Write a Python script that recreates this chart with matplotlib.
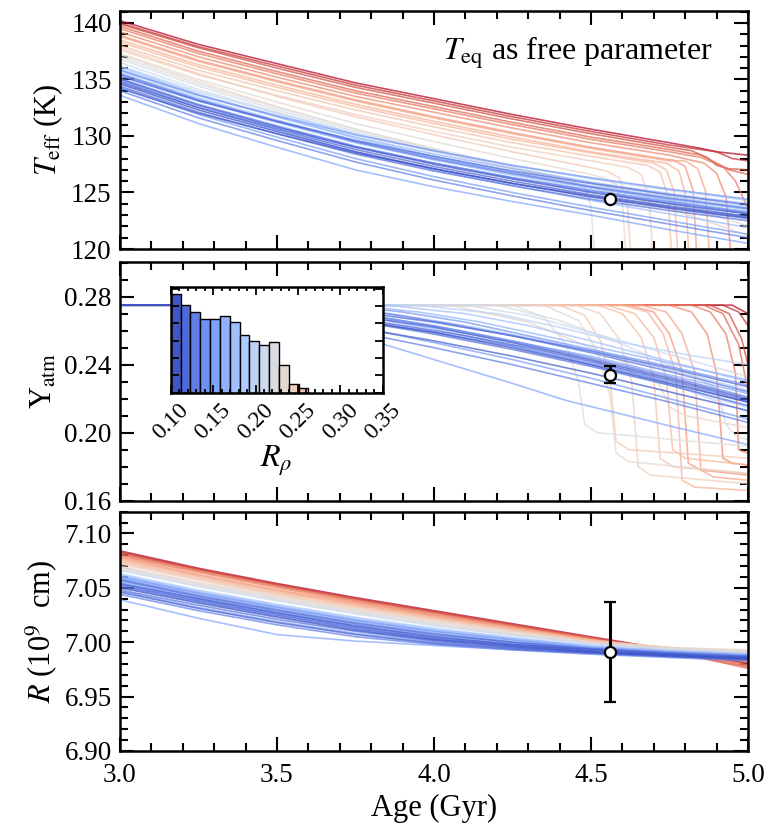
import numpy as np
import matplotlib.pyplot as plt
from matplotlib.ticker import MultipleLocator, FormatStrFormatter

plt.rcParams['font.family'] = ['Liberation Serif', 'DejaVu Serif']
plt.rcParams['mathtext.fontset'] = 'stix'

# R_rho of each model track (blue -> red)
rrho = [0.101, 0.104, 0.106, 0.109, 0.112, 0.114, 0.117, 0.120, 0.123, 0.126,
        0.129, 0.132, 0.136, 0.139, 0.143, 0.147, 0.151, 0.156, 0.161, 0.166,
        0.171, 0.176, 0.181, 0.186, 0.190,
        0.195, 0.199, 0.203, 0.208, 0.212, 0.217, 0.222, 0.228, 0.234, 0.240,
        0.247, 0.255, 0.262]

age_grid = [3.0, 3.25, 3.5, 3.75, 4.0, 4.25, 4.5, 4.75, 5.0]

# effective temperature on the age grid (K)
teff_grid = [
    [134.6, 132.3, 130.4, 128.6, 127.1, 125.8, 124.6, 123.6, 122.7],
    [135.0, 132.7, 130.8, 129.0, 127.5, 126.2, 125.0, 124.0, 123.1],
    [134.2, 132.0, 130.2, 128.5, 127.1, 125.8, 124.7, 123.7, 122.8],
    [134.8, 132.5, 130.6, 128.8, 127.3, 126.0, 124.8, 123.8, 122.9],
    [135.3, 133.1, 131.3, 129.6, 128.2, 126.9, 125.8, 124.8, 123.9],
    [134.4, 132.1, 130.2, 128.4, 126.9, 125.6, 124.4, 123.4, 122.5],
    [135.5, 133.2, 131.3, 129.5, 128.0, 126.7, 125.5, 124.5, 123.6],
    [134.0, 131.6, 129.6, 127.7, 126.1, 124.7, 123.4, 122.2, 121.0],
    [135.1, 132.8, 130.9, 129.1, 127.6, 126.3, 125.1, 124.1, 123.2],
    [134.7, 132.5, 130.7, 129.0, 127.6, 126.3, 125.2, 124.2, 123.3],
    [135.8, 133.6, 131.8, 130.1, 128.7, 127.4, 126.3, 125.3, 124.4],
    [134.3, 131.9, 129.9, 128.0, 126.4, 125.0, 123.7, 122.5, 121.3],
    [133.6, 131.1, 129.0, 127.0, 125.5, 124.2, 123.0, 121.7, 120.5],
    [135.4, 133.1, 131.2, 129.4, 127.9, 126.6, 125.4, 124.4, 123.5],
    [135.9, 133.6, 131.7, 129.9, 128.4, 127.1, 125.9, 124.9, 124.0],
    [134.9, 132.5, 130.5, 128.6, 127.0, 125.6, 124.3, 123.1, 121.9],
    [136.1, 133.7, 131.7, 129.8, 128.2, 126.8, 125.5, 124.3, 123.1],
    [135.6, 133.3, 131.4, 129.6, 128.1, 126.8, 125.6, 124.6, 123.7],
    [136.2, 133.9, 132.0, 130.2, 128.7, 127.4, 126.2, 125.2, 124.3],
    [135.8, 133.4, 131.4, 129.5, 127.9, 126.5, 125.2, 124.0, 122.8],
    [136.5, 134.1, 132.1, 130.2, 128.6, 127.2, 125.9, 124.7, 123.5],
    [136.8, 134.4, 132.3, 130.4, 128.7, 127.2, 125.8, 124.3, 122.0],
    [137.0, 134.6, 132.5, 130.6, 128.9, 127.3, 125.8, 124.4, 123.0],
    [137.3, 135.0, 133.0, 131.1, 129.5, 128.0, 126.6, 125.3, 124.0],
    [137.2, 134.8, 132.6, 130.6, 128.8, 127.1, 125.5, 123.6, 121.2],
    [137.6, 135.4, 133.6, 131.9, 130.4, 129.0, 127.8, 126.7, 125.6],
    [137.8, 135.5, 133.5, 131.7, 130.1, 128.6, 127.2, 126.0, 124.8],
    [138.0, 135.8, 134.0, 132.3, 130.8, 129.4, 128.2, 127.1, 126.0],
    [138.3, 136.1, 134.3, 132.6, 131.1, 129.7, 128.5, 127.4, 126.4],
    [138.5, 136.3, 134.5, 132.8, 131.3, 129.9, 128.6, 127.5, 126.5],
    [138.8, 136.6, 134.8, 133.1, 131.6, 130.2, 128.9, 127.8, 126.8],
    [138.9, 136.7, 134.9, 133.2, 131.7, 130.3, 129.0, 127.9, 126.9],
    [139.2, 137.0, 135.2, 133.5, 132.1, 130.7, 129.4, 128.3, 127.3],
    [139.5, 137.3, 135.5, 133.8, 132.4, 131.0, 129.7, 128.6, 127.6],
    [139.7, 137.5, 135.7, 134.0, 132.6, 131.2, 129.9, 128.8, 127.8],
    [139.9, 137.8, 136.0, 134.3, 132.9, 131.5, 130.2, 129.0, 128.0],
    [140.0, 137.9, 136.2, 134.5, 133.1, 131.7, 130.4, 129.2, 128.2],
    [140.2, 138.1, 136.4, 134.7, 133.3, 131.9, 130.6, 129.4, 128.3],
]

# late-time collapse of Teff, replacing the grid from its first age on
teff_tail = [None] * 22 + [
    [(4.45, 125.9), (4.48, 125.4), (4.50, 123.8), (4.515, 118.0)],
    [(4.55, 126.2), (4.58, 125.7), (4.60, 124.0), (4.615, 118.0)],
    None,
    [(4.62, 127.2), (4.66, 126.6), (4.685, 124.6), (4.70, 118.0)],
    [(4.55, 126.9), (4.59, 126.3), (4.615, 124.3), (4.63, 118.0)],
    [(4.68, 127.4), (4.72, 126.8), (4.745, 124.7), (4.76, 118.0)],
    [(4.70, 127.6), (4.74, 127.0), (4.765, 125.0), (4.78, 118.0)],
    [(4.74, 127.6), (4.78, 126.9), (4.80, 124.9), (4.815, 118.0)],
    [(4.80, 127.8), (4.84, 127.1), (4.865, 125.1), (4.88, 118.0)],
    [(4.76, 127.9), (4.80, 127.3), (4.825, 125.2), (4.84, 118.0)],
    [(4.86, 127.6), (4.90, 126.7), (4.93, 124.6), (4.95, 118.0)],
    [(4.85, 128.1), (4.92, 127.3), (4.96, 126.0), (4.99, 124.2), (5.0, 123.5)],
    [(4.85, 128.3), (4.90, 127.6), (4.94, 127.0), (5.0, 126.6)],
    [(4.82, 128.7), (4.87, 128.1), (4.90, 127.4), (4.94, 127.1), (5.0, 127.0)],
    [(4.90, 128.6), (4.95, 128.0), (5.0, 127.8)],
    [(4.85, 128.9), (4.90, 128.6), (5.0, 128.3)],
]

# atmospheric helium mass fraction tracks (age, Y)
yatm_tracks = [
    [(3.0, .275), (3.30, .275), (3.5, .272), (3.75, .266), (4.0, .259), (4.25, .250), (4.5, .240), (4.75, .229), (5.0, .218)],
    [(3.0, .275), (3.45, .275), (3.75, .269), (4.0, .262), (4.25, .253), (4.5, .243), (4.75, .232), (5.0, .220)],
    [(3.0, .275), (3.25, .275), (3.5, .270), (3.75, .262), (4.0, .254), (4.25, .245), (4.5, .235), (4.75, .224), (5.0, .213)],
    [(3.0, .275), (3.40, .275), (3.65, .270), (3.9, .263), (4.1, .257), (4.3, .250), (4.5, .242), (4.75, .231), (5.0, .219)],
    [(3.0, .275), (3.55, .275), (3.8, .270), (4.0, .265), (4.25, .257), (4.5, .248), (4.75, .238), (5.0, .227)],
    [(3.0, .275), (3.35, .275), (3.6, .270), (3.84, .263), (4.0, .258), (4.25, .249), (4.5, .239), (4.75, .228), (5.0, .216)],
    [(3.0, .275), (3.60, .275), (3.85, .270), (4.05, .264), (4.25, .257), (4.5, .247), (4.75, .236), (5.0, .224)],
    [(3.0, .275), (3.20, .275), (3.5, .266), (3.84, .256), (4.0, .250), (4.25, .240), (4.5, .229), (4.75, .218), (5.0, .206)],
    [(3.0, .275), (3.50, .275), (3.75, .270), (4.0, .263), (4.25, .254), (4.5, .244), (4.75, .233), (5.0, .221)],
    [(3.0, .275), (3.40, .275), (3.7, .268), (4.0, .259), (4.25, .251), (4.5, .241), (4.75, .230), (5.0, .218)],
    [(3.0, .275), (3.70, .275), (3.9, .271), (4.1, .265), (4.3, .257), (4.5, .249), (4.75, .239), (5.0, .228)],
    [(3.0, .275), (3.35, .275), (3.6, .268), (3.84, .259), (4.0, .253), (4.25, .243), (4.5, .232), (4.75, .220), (5.0, .208)],
    [(3.0, .275), (3.30, .275), (3.5, .268), (3.84, .252), (4.0, .243), (4.25, .229), (4.42, .219), (4.75, .204), (5.0, .193)],
    [(3.0, .275), (3.55, .275), (3.8, .269), (4.05, .261), (4.3, .252), (4.5, .245), (4.75, .234), (5.0, .223)],
    [(3.0, .275), (3.75, .275), (3.95, .271), (4.15, .265), (4.35, .257), (4.55, .249), (4.75, .241), (5.0, .231)],
    [(3.0, .275), (3.50, .275), (3.75, .269), (4.0, .261), (4.25, .251), (4.5, .240), (4.75, .228), (5.0, .215)],
    [(3.0, .275), (3.85, .275), (4.1, .270), (4.3, .263), (4.5, .254), (4.75, .242), (5.0, .230)],
    [(3.0, .275), (3.65, .275), (3.9, .269), (4.1, .263), (4.3, .256), (4.5, .248), (4.75, .237), (5.0, .225)],
    [(3.0, .275), (3.95, .275), (4.2, .270), (4.4, .262), (4.6, .253), (4.8, .246), (5.0, .240)],
    [(3.0, .275), (3.60, .275), (3.9, .266), (4.2, .255), (4.45, .245), (4.7, .232), (5.0, .212)],
    [(3.0, .275), (4.10, .275), (4.3, .269), (4.5, .259), (4.75, .246), (5.0, .233)],
    [(3.0, .275), (4.20, .275), (4.4, .266), (4.6, .252), (4.8, .236), (4.9, .226), (4.93, .205), (4.96, .198), (5.0, .196)],
    [(3.0, .275), (4.25, .275), (4.35, .268), (4.42, .252), (4.46, .230), (4.48, .205), (4.52, .200), (5.0, .192)],
    [(3.0, .275), (4.35, .275), (4.46, .266), (4.52, .248), (4.56, .222), (4.58, .188), (4.62, .183), (5.0, .176)],
    [(3.0, .275), (4.05, .275), (4.3, .265), (4.5, .250), (4.65, .238), (4.72, .228), (4.75, .215), (4.8, .210), (5.0, .203)],
    [(3.0, .275), (4.45, .275), (4.53, .270), (4.59, .255), (4.63, .230), (4.65, .180), (4.69, .175), (5.0, .170)],
    [(3.0, .275), (4.40, .275), (4.48, .269), (4.53, .254), (4.56, .232), (4.58, .195), (4.62, .190), (5.0, .185)],
    [(3.0, .275), (4.52, .275), (4.60, .270), (4.66, .256), (4.70, .232), (4.72, .185), (4.76, .180), (5.0, .176)],
    [(3.0, .275), (4.55, .275), (4.64, .270), (4.70, .256), (4.74, .232), (4.76, .190), (4.80, .185), (5.0, .181)],
    [(3.0, .275), (4.60, .275), (4.68, .271), (4.73, .258), (4.77, .235), (4.79, .172), (4.83, .168), (5.0, .166)],
    [(3.0, .275), (4.66, .275), (4.74, .271), (4.79, .258), (4.83, .236), (4.85, .178), (4.89, .174), (5.0, .172)],
    [(3.0, .275), (4.62, .275), (4.70, .271), (4.75, .258), (4.79, .236), (4.81, .182), (4.85, .178), (5.0, .175)],
    [(3.0, .275), (4.75, .275), (4.82, .271), (4.87, .258), (4.90, .235), (4.92, .185), (4.95, .182), (5.0, .181)],
    [(3.0, .275), (4.82, .275), (4.88, .271), (4.93, .258), (4.96, .235), (4.97, .190), (5.0, .188)],
    [(3.0, .275), (4.86, .275), (4.92, .270), (4.97, .252), (5.0, .225)],
    [(3.0, .275), (4.88, .275), (4.94, .270), (4.98, .255), (5.0, .240)],
    [(3.0, .275), (4.92, .275), (4.97, .271), (5.0, .263)],
    [(3.0, .275), (4.95, .275), (5.0, .270)],
]

# radius on the age grid (1e9 cm)
radius_grid = [
    [7.050, 7.036, 7.023, 7.011, 7.002, 6.996, 6.991, 6.988, 6.985],
    [7.054, 7.040, 7.027, 7.015, 7.005, 6.998, 6.993, 6.989, 6.986],
    [7.046, 7.031, 7.018, 7.007, 6.999, 6.994, 6.990, 6.987, 6.984],
    [7.052, 7.038, 7.025, 7.013, 7.003, 6.997, 6.992, 6.988, 6.985],
    [7.057, 7.042, 7.029, 7.017, 7.007, 7.000, 6.994, 6.990, 6.987],
    [7.048, 7.034, 7.021, 7.010, 7.001, 6.995, 6.991, 6.987, 6.984],
    [7.058, 7.043, 7.030, 7.018, 7.008, 7.000, 6.994, 6.990, 6.987],
    [7.044, 7.029, 7.016, 7.005, 6.998, 6.993, 6.989, 6.986, 6.983],
    [7.053, 7.039, 7.026, 7.014, 7.004, 6.998, 6.993, 6.989, 6.986],
    [7.051, 7.037, 7.024, 7.012, 7.003, 6.997, 6.992, 6.988, 6.985],
    [7.060, 7.045, 7.032, 7.020, 7.010, 7.002, 6.995, 6.991, 6.988],
    [7.047, 7.032, 7.019, 7.008, 7.000, 6.995, 6.991, 6.987, 6.984],
    [7.039, 7.022, 7.007, 7.001, 6.997, 6.993, 6.990, 6.987, 6.984],
    [7.056, 7.041, 7.028, 7.016, 7.006, 6.999, 6.994, 6.990, 6.987],
    [7.061, 7.046, 7.033, 7.021, 7.011, 7.003, 6.996, 6.992, 6.989],
    [7.055, 7.040, 7.027, 7.015, 7.005, 6.998, 6.993, 6.989, 6.986],
    [7.062, 7.047, 7.034, 7.022, 7.012, 7.004, 6.996, 6.991, 6.987],
    [7.059, 7.044, 7.031, 7.019, 7.009, 7.001, 6.995, 6.991, 6.988],
    [7.063, 7.048, 7.035, 7.023, 7.013, 7.004, 6.997, 6.992, 6.989],
    [7.060, 7.045, 7.032, 7.020, 7.010, 7.002, 6.995, 6.990, 6.986],
    [7.066, 7.051, 7.038, 7.026, 7.015, 7.006, 6.998, 6.993, 6.990],
    [7.067, 7.052, 7.039, 7.027, 7.016, 7.007, 6.999, 6.994, 6.991],
    [7.068, 7.053, 7.040, 7.028, 7.017, 7.007, 6.999, 6.993, 6.991],
    [7.070, 7.055, 7.042, 7.030, 7.019, 7.009, 7.000, 6.995, 6.993],
    [7.069, 7.054, 7.041, 7.029, 7.018, 7.008, 6.999, 6.994, 6.992],
    [7.072, 7.057, 7.043, 7.031, 7.020, 7.010, 7.000, 6.994, 6.990],
    [7.073, 7.058, 7.044, 7.032, 7.021, 7.011, 7.001, 6.995, 6.992],
    [7.074, 7.059, 7.045, 7.033, 7.022, 7.011, 7.001, 6.995, 6.989],
    [7.075, 7.060, 7.046, 7.034, 7.022, 7.012, 7.002, 6.995, 6.987],
    [7.076, 7.061, 7.047, 7.034, 7.023, 7.012, 7.002, 6.994, 6.985],
    [7.077, 7.062, 7.048, 7.035, 7.024, 7.013, 7.002, 6.993, 6.983],
    [7.078, 7.062, 7.048, 7.036, 7.024, 7.013, 7.002, 6.993, 6.982],
    [7.079, 7.064, 7.050, 7.037, 7.025, 7.014, 7.003, 6.992, 6.979],
    [7.080, 7.065, 7.051, 7.038, 7.026, 7.015, 7.003, 6.991, 6.977],
    [7.081, 7.066, 7.052, 7.039, 7.027, 7.015, 7.004, 6.992, 6.976],
    [7.082, 7.067, 7.053, 7.040, 7.028, 7.016, 7.004, 6.992, 6.978],
    [7.083, 7.067, 7.053, 7.040, 7.028, 7.016, 7.004, 6.993, 6.980],
    [7.084, 7.068, 7.054, 7.041, 7.029, 7.017, 7.005, 6.993, 6.981],
]

# observed values (Saturn) at 4.56 Gyr
obs_age = 4.56
obs_teff = 124.4
obs_y, obs_y_err = 0.234, 0.005
obs_r, obs_r_err = 6.991, 0.046

# R_rho histogram of accepted models
hist_counts = [114, 101, 93, 85, 85, 88, 81, 66, 60, 55, 59, 32, 10, 5]
hist_left = [0.1000, 0.1116, 0.1232, 0.1348, 0.1464, 0.1580, 0.1696,
             0.1812, 0.1928, 0.2044, 0.2160, 0.2276, 0.2392, 0.2508]
hist_width = 0.0116

cmap = plt.get_cmap('coolwarm')
line_norm = plt.Normalize(0.10, 0.262)
bar_norm = plt.Normalize(0.10, 0.35)

fig = plt.figure(figsize=(7.69, 8.32), dpi=100)
ax1 = fig.add_axes([0.156, 0.7007, 0.8167, 0.2860])
ax2 = fig.add_axes([0.156, 0.3982, 0.8167, 0.2873])
ax3 = fig.add_axes([0.156, 0.0974, 0.8167, 0.2876])

lw, alpha = 1.2, 0.72
for i in range(len(rrho) - 1, -1, -1):
    c = cmap(line_norm(rrho[i]))
    tail = teff_tail[i]
    pts = [(a, v) for a, v in zip(age_grid, teff_grid[i]) if tail is None or a < tail[0][0]]
    if tail is not None:
        pts = pts + tail
    ax1.plot([p[0] for p in pts], [p[1] for p in pts], color=c, lw=lw, alpha=alpha)
    ax2.plot([p[0] for p in yatm_tracks[i]], [p[1] for p in yatm_tracks[i]], color=c, lw=lw, alpha=alpha)
    ax3.plot(age_grid, radius_grid[i], color=c, lw=lw, alpha=alpha)

mk = dict(fmt='o', color='k', mfc='white', mec='k', ms=8, mew=1.6,
          elinewidth=2.2, capsize=4, capthick=2.2, zorder=10)
ax1.errorbar([obs_age], [obs_teff], **mk)
ax2.errorbar([obs_age], [obs_y], yerr=[obs_y_err], **mk)
ax3.errorbar([obs_age], [obs_r], yerr=[obs_r_err], **mk)

for ax in (ax1, ax2, ax3):
    ax.set_xlim(3.0, 5.0)
    ax.xaxis.set_major_locator(MultipleLocator(0.5))
    ax.xaxis.set_minor_locator(MultipleLocator(0.1))
    ax.tick_params(which='both', direction='in', top=True, right=True, labelsize=19.5, width=1.5)
    ax.tick_params(which='major', length=10)
    ax.tick_params(which='minor', length=5.5)
    ax.tick_params(axis='x', pad=9)
    ax.tick_params(axis='y', pad=6)
    for s in ax.spines.values():
        s.set_linewidth(1.8)

ax1.set_ylim(120, 141.05)
ax1.yaxis.set_major_locator(MultipleLocator(5))
ax1.yaxis.set_minor_locator(MultipleLocator(1))
ax1.set_ylabel(r'$T_{\rm eff}$ (K)', fontsize=22)
ax1.tick_params(labelbottom=False)
ax1.text(0.944, 0.794, r'$T_{\rm eq}$ as free parameter', transform=ax1.transAxes,
         ha='right', va='baseline', fontsize=23)

ax2.set_ylim(0.16, 0.3006)
ax2.yaxis.set_major_locator(MultipleLocator(0.04))
ax2.yaxis.set_minor_locator(MultipleLocator(0.01))
ax2.yaxis.set_major_formatter(FormatStrFormatter('%.2f'))
ax2.set_ylabel(r'Y$_{\rm atm}$', fontsize=22)
ax2.tick_params(labelbottom=False)

ax3.set_ylim(6.90, 7.12)
ax3.yaxis.set_major_locator(MultipleLocator(0.05))
ax3.yaxis.set_minor_locator(MultipleLocator(0.01))
ax3.yaxis.set_major_formatter(FormatStrFormatter('%.2f'))
ax3.xaxis.set_major_formatter(FormatStrFormatter('%.1f'))
ax3.set_ylabel(r'$R$ (10$^{9}$  cm)', fontsize=22)
ax3.set_xlabel('Age (Gyr)', fontsize=22, labelpad=4)

fig.align_ylabels([ax1, ax2, ax3])

# inset histogram of R_rho
axi = fig.add_axes([0.222, 0.528, 0.2757, 0.1267])
centers = [l + hist_width / 2 for l in hist_left]
axi.bar(hist_left, hist_counts, width=hist_width, align='edge',
        color=[cmap(bar_norm(c)) for c in centers], edgecolor='k', linewidth=1.0)
axi.set_xlim(0.10, 0.35)
axi.set_ylim(0, 121.5)
axi.xaxis.set_major_locator(MultipleLocator(0.05))
axi.xaxis.set_minor_locator(MultipleLocator(0.01))
axi.xaxis.set_major_formatter(FormatStrFormatter('%.2f'))
axi.yaxis.set_major_locator(MultipleLocator(20))
axi.tick_params(which='both', direction='in', top=True, right=True, labelleft=False,
                labelsize=17, width=1.3)
axi.tick_params(which='major', length=6)
axi.tick_params(which='minor', length=3)
axi.tick_params(axis='x', pad=5)
for lab in axi.get_xticklabels():
    lab.set_rotation(45)
    lab.set_ha('center')
for s in axi.spines.values():
    s.set_linewidth(1.8)
axi.set_xlabel(r'$R_\rho$', fontsize=23, labelpad=0)

fig.savefig('out.png', dpi=100)
